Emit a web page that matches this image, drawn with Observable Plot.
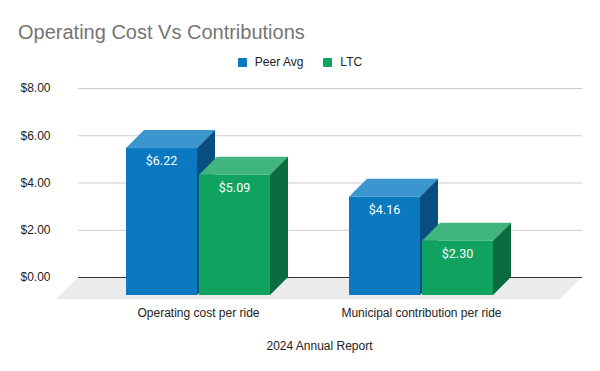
<!DOCTYPE html>
<html><head><meta charset="utf-8">
<script src="https://cdn.jsdelivr.net/npm/d3@7"></script>
<script src="https://cdn.jsdelivr.net/npm/@observablehq/plot@0.6"></script>
<style>
body{margin:0;background:#fff;}
#wrap{position:relative;width:600px;height:371px;overflow:hidden;font-family:"Liberation Sans",Arial,sans-serif;background:#fff;}
#head{position:relative;height:75px;}
#title{position:absolute;left:18px;top:22px;font-size:20px;line-height:20px;color:#757575;white-space:nowrap;}
#legend{position:absolute;top:55px;left:0;width:600px;height:14px;display:flex;justify-content:center;align-items:center;font-size:12px;line-height:14px;color:#222;}
.item{display:flex;align-items:center;margin:0 10px;}
.sw{width:9px;height:9px;border-radius:1px;margin-right:8px;}
#chart svg{display:block;}
</style></head><body>
<div id="wrap">
  <div id="head"><div id="title">Operating Cost Vs Contributions</div><div id="legend"></div></div>
  <div id="chart"></div>
</div>
<script>
// ---- data ----
const categories = ["Operating cost per ride", "Municipal contribution per ride"];
const seriesNames = ["Peer Avg", "LTC"];
const peerAvg = [6.22, 4.16];
const ltc = [5.09, 2.30];
const yTicks = [0, 2, 4, 6, 8];
const xTitle = "2024 Annual Report";

// ---- styles ----
const shades = {
  "Peer Avg": {front: "#0a79bf", top: "#3b96d0", side: "#064f80"},
  "LTC": {front: "#0fa35f", top: "#40b580", side: "#0a6b3f"}
};
const seriesValues = {"Peer Avg": peerAvg, "LTC": ltc};
const data = categories.flatMap((c, i) => seriesNames.map((s) => ({category: c, series: s, value: seriesValues[s][i]})));

// legend
const legend = document.getElementById("legend");
for (const s of seriesNames) {
  const it = document.createElement("div"); it.className = "item";
  const sw = document.createElement("div"); sw.className = "sw"; sw.style.background = shades[s].front;
  const t = document.createElement("span"); t.textContent = s;
  it.appendChild(sw); it.appendChild(t); legend.appendChild(it);
}

const W = 600, H = 296;
const depth = 18, floorDepth = 22, gap = 2;
const padIn = 0.354, padOut = 0.307, align = 0.48;
const mL = 78, mR = 18, mT = 13, mB = 94;

function bandwidthOf(x) {
  let bw = x && x.bandwidth;
  if (typeof bw === "function") bw = bw();
  if (!(bw > 0)) {
    const step = (W - mL - mR) / (categories.length - padIn + 2 * padOut);
    bw = step * (1 - padIn);
  }
  return bw;
}

const floorMark = Plot.ruleY([0], {
  render(index, scales, values, dim) {
    const y0 = scales.y(0);
    const xl = dim.marginLeft, xr = dim.width - dim.marginRight;
    const g = d3.create("svg:g");
    g.append("path")
      .attr("d", `M${xl},${y0}L${xr},${y0}L${xr - floorDepth},${y0 + floorDepth}L${xl - floorDepth},${y0 + floorDepth}Z`)
      .attr("fill", "#ebebeb");
    return g.node();
  }
});

const barsMark = Plot.barY(data, {
  x: "category", y: "value",
  render(index, scales) {
    const bw = bandwidthOf(scales.x);
    const w = (bw - gap) / 2;
    const y0 = scales.y(0);
    const g = d3.create("svg:g");
    for (const i of index) {
      const d = data[i];
      const si = seriesNames.indexOf(d.series);
      const xb = scales.x(d.category) + si * (w + gap);
      const xf = xb - depth;
      const yv = scales.y(d.value);
      const c = shades[d.series];
      // front
      g.append("rect").attr("x", xf).attr("y", yv + depth).attr("width", w).attr("height", y0 - yv)
        .attr("fill", c.front);
      // top
      g.append("path").attr("d", `M${xf},${yv + depth}L${xf + w},${yv + depth}L${xb + w},${yv}L${xb},${yv}Z`)
        .attr("fill", c.top);
      // side
      g.append("path").attr("d", `M${xf + w},${yv + depth}L${xb + w},${yv}L${xb + w},${y0}L${xf + w},${y0 + depth}Z`)
        .attr("fill", c.side);
      // label
      g.append("text").attr("x", xf + w / 2).attr("y", yv + depth + 17)
        .attr("text-anchor", "middle").attr("fill", "#fff")
        .attr("font-family", "Roboto, sans-serif").attr("font-size", 12.5)
        .text("$" + d.value.toFixed(2));
    }
    return g.node();
  }
});

const chart = Plot.plot({
  width: W, height: H,
  marginTop: mT, marginBottom: mB, marginLeft: mL, marginRight: mR,
  style: {fontFamily: "'Liberation Sans', Arial, sans-serif", fontSize: "12px", color: "#222", background: "#fff"},
  x: {domain: categories, paddingInner: padIn, paddingOuter: padOut, align, axis: null},
  y: {domain: [0, 8], axis: null},
  marks: [
    floorMark,
    Plot.gridY(yTicks.filter((t) => t > 0), {stroke: "#cccccc", strokeOpacity: 1}),
    Plot.ruleY([0], {stroke: "#333", strokeWidth: 1}),
    Plot.axisY(yTicks, {tickSize: 0, tickPadding: 28, tickFormat: (d) => "$" + d.toFixed(2), fill: "#222", label: null}),
    Plot.axisX({tickSize: 0, tickPadding: 31, dx: -depth, label: null, fill: "#222"}),
    barsMark,
    Plot.text([xTitle], {frameAnchor: "bottom", dy: 69, dx: -11, fill: "#222", fontSize: 12, lineAnchor: "middle"})
  ]
});
document.getElementById("chart").appendChild(chart);
</script>
</body></html>
